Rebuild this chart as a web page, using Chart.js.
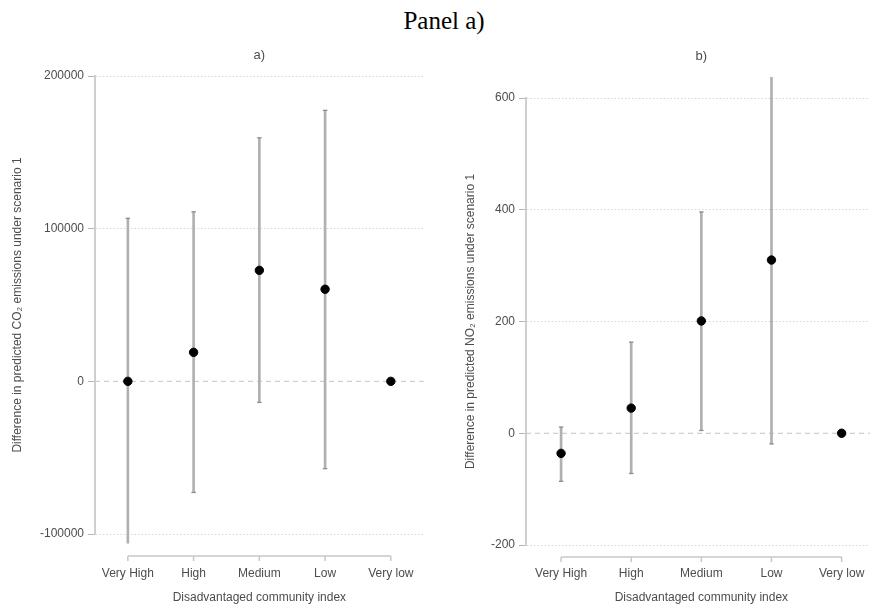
<!DOCTYPE html>
<html>
<head>
<meta charset="utf-8">
<script src="https://cdn.jsdelivr.net/npm/chart.js@4"></script>
<style>
  body { margin: 0; width: 870px; height: 605px; overflow: hidden; background: #fff; position: relative; }
  #heading { position: absolute; left: 444px; top: 8px; transform: translateX(-50%);
    font: 25px/25px "Liberation Serif", "Times New Roman", serif; color: #000; white-space: nowrap; }
  canvas { position: absolute; top: 0; }
  #chartA { left: 0; }
  #chartB { left: 435px; }
</style>
</head>
<body>
<div id="heading">Panel a)</div>
<canvas id="chartA" width="429" height="605"></canvas>
<canvas id="chartB" width="447" height="605"></canvas>
<script>
const categories = ['Very High', 'High', 'Medium', 'Low', 'Very low'];

// panel a: CO2
const co2Est  = [0, 19000, 72700, 60300, 0];
const co2Low  = [-106000, -72800, -13800, -57200, null];
const co2High = [106800, 111000, 159500, 177500, null];
const co2Ticks = [-100000, 0, 100000, 200000];

// panel b: NO2
const no2Est  = [-36, 45, 201, 310, 0];
const no2Low  = [-86, -72, 5, -19, null];
const no2High = [11, 163, 396, 637, null];
const no2Ticks = [-200, 0, 200, 400, 600];

const font = '"Liberation Sans", Arial, sans-serif';
const textCol = '#4d4d4d';

// dashed zero line + x axis line that only runs between first and last tick
const decor = {
  id: 'decor',
  beforeDatasetsDraw(chart, args, opts) {
    const { ctx, chartArea } = chart;
    const y0 = chart.scales.y.getPixelForValue(0);
    ctx.save();
    ctx.strokeStyle = '#c4c4c4';
    ctx.lineWidth = 1;
    ctx.setLineDash([5, 4]);
    ctx.beginPath();
    ctx.moveTo(chartArea.left, y0);
    ctx.lineTo(chartArea.right, y0);
    ctx.stroke();
    ctx.restore();
  },
  afterDraw(chart, args, opts) {
    const { ctx, chartArea } = chart;
    const x = chart.scales.x;
    const y = chartArea.bottom + opts.gap;
    ctx.save();
    ctx.strokeStyle = '#c8c8c8';
    ctx.lineWidth = 1.5;
    ctx.beginPath();
    ctx.moveTo(x.getPixelForValue(0), y);
    ctx.lineTo(x.getPixelForValue(categories.length - 1), y);
    categories.forEach((c, i) => {
      const px = x.getPixelForValue(i);
      ctx.moveTo(px, y);
      ctx.lineTo(px, y + 5);
    });
    ctx.stroke();
    ctx.restore();
  }
};

function makePanel(id, cfg) {
  const whiskers = cfg.low.map((l, i) => (l === null ? null : [l, cfg.high[i]]));
  new Chart(document.getElementById(id), {
    type: 'bar',
    data: {
      labels: categories,
      datasets: [
        { type: 'line', data: cfg.est, showLine: false, pointRadius: 4.2,
          pointBackgroundColor: '#000', pointBorderColor: '#000', clip: false },
        { type: 'line', data: cfg.low, showLine: false, pointStyle: 'line', pointRadius: 2.2,
          pointBorderWidth: 1.3, pointBorderColor: '#8c8c8c', clip: false },
        { type: 'line', data: cfg.high, showLine: false, pointStyle: 'line', pointRadius: 2.2,
          pointBorderWidth: 1.3, pointBorderColor: '#8c8c8c', clip: false },
        { type: 'bar', data: whiskers, barThickness: 2, backgroundColor: '#b0b0b0',
          borderWidth: 0, clip: false }
      ]
    },
    options: {
      responsive: false,
      animation: false,
      layout: { padding: 0 },
      plugins: {
        legend: { display: false },
        tooltip: { enabled: false },
        title: {
          display: true, text: cfg.title, fullSize: false,
          color: textCol, font: { family: font, size: 13, weight: 'normal' },
          padding: cfg.titlePad
        },
        decor: { gap: cfg.axisGap }
      },
      scales: {
        x: {
          offset: true,
          grid: { drawOnChartArea: false, drawTicks: true, tickLength: cfg.labelGap,
            tickColor: 'rgba(0,0,0,0)', color: 'rgba(0,0,0,0)' },
          border: { display: false },
          ticks: { color: textCol, font: { family: font, size: 12 }, padding: 4 },
          title: { display: true, text: 'Disadvantaged community index', color: textCol,
            font: { family: font, size: 12 }, padding: { top: 0, bottom: 0 } },
          afterFit: s => { s.height = 605 - cfg.bottom; }
        },
        y: {
          min: cfg.ticks[0],
          max: cfg.ticks[cfg.ticks.length - 1],
          afterBuildTicks: s => { s.ticks = cfg.ticks.map(v => ({ value: v })); },
          grid: {
            color: c => (c.tick && c.tick.value === 0 ? 'rgba(0,0,0,0)' : '#d6d6d6'),
            lineWidth: 1,
            tickColor: '#b5b5b5',
            tickLength: 7,
            tickWidth: 1
          },
          border: { display: true, color: '#cfcfcf', width: 2, dash: [1.5, 2] },
          ticks: { color: textCol, font: { family: font, size: 12 }, padding: 4,
            callback: v => String(v) },
          title: { display: true, text: cfg.yTitle, color: textCol,
            font: { family: font, size: 12 }, padding: { top: cfg.yTitlePad, bottom: 0 } },
          afterFit: s => { s.width = cfg.left; }
        }
      }
    },
    plugins: [decor]
  });
}

makePanel('chartA', {
  title: 'a)', est: co2Est, low: co2Low, high: co2High, ticks: co2Ticks,
  yTitle: 'Difference in predicted CO\u2082 emissions under scenario 1',
  left: 95, bottom: 534, titlePad: { top: 48, bottom: 12.4 },
  axisGap: 22, labelGap: 28, yTitlePad: 10
});

makePanel('chartB', {
  title: 'b)', est: no2Est, low: no2Low, high: no2High, ticks: no2Ticks,
  yTitle: 'Difference in predicted NO\u2082 emissions under scenario 1',
  left: 91, bottom: 545, titlePad: { top: 49, bottom: 33.4 },
  axisGap: 12, labelGap: 17, yTitlePad: 28
});
</script>
</body>
</html>
